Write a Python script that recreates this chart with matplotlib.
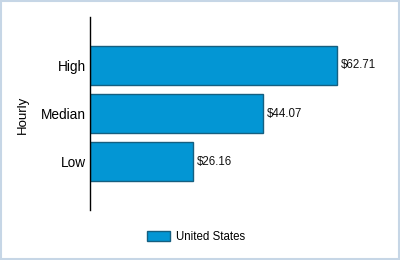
import matplotlib
matplotlib.use('Agg')
import matplotlib.pyplot as plt
from matplotlib.patches import Rectangle

categories = ['Low', 'Median', 'High']
values = [26.16, 44.07, 62.71]
series = 'United States'

plt.rcParams['font.family'] = ['Liberation Sans', 'DejaVu Sans']

fig = plt.figure(figsize=(4, 2.6), dpi=100)
ax = fig.add_axes([0.225, 0.1923, 0.7375, 0.742])

pos = list(range(len(categories)))
bars = ax.barh(pos, values, height=0.8, color='#0396d4', edgecolor='#155f80',
               linewidth=1, label=series)
for p, v in zip(pos, values):
    ax.text(v + 1.0, p, '${:.2f}'.format(v), va='center', ha='left',
            fontsize=8.3, color='#111111')

ax.set_xlim(0, 75)
ax.set_ylim(-1, 3)
ax.set_yticks(pos)
ax.set_yticklabels(categories, fontsize=9.8)
ax.tick_params(axis='y', length=0, pad=3)
ax.set_xticks([])
for s in ['top', 'right', 'bottom']:
    ax.spines[s].set_visible(False)
ax.spines['left'].set_linewidth(1)
ax.spines['left'].set_color('black')

fig.text(0.057, 0.56, 'Hourly', rotation=90, va='center', ha='center', fontsize=9.5)

fig.legend(loc='center', bbox_to_anchor=(0.49, 0.088), frameon=False,
           fontsize=8.3, handlelength=2.0, handleheight=0.9, handletextpad=0.5)

fig.patches.append(Rectangle((0.002, 0.003), 0.996, 0.994, transform=fig.transFigure,
                             fill=False, edgecolor='#c6d6e6', linewidth=1.5))

fig.savefig('out.png', dpi=100)
